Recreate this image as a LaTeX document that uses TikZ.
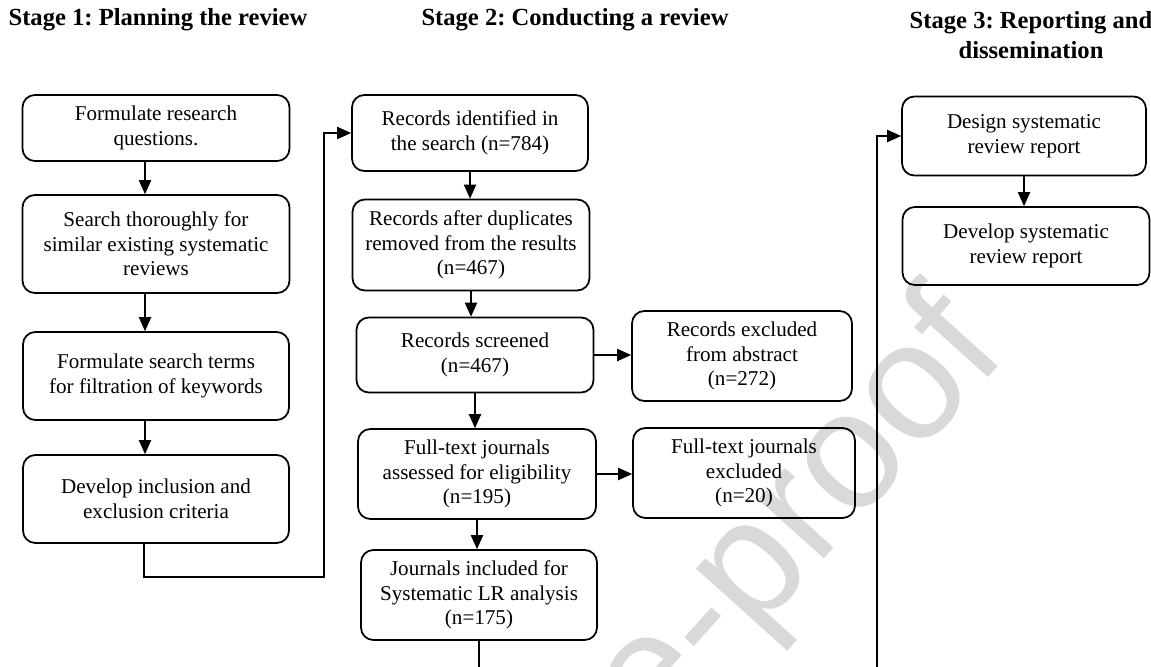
\documentclass[tikz,border=0pt]{standalone}
\usepackage{fontspec}
\setmainfont{Liberation Serif}
\newfontfamily\wmfont{Liberation Sans}
\usetikzlibrary{positioning, arrows.meta}
\frenchspacing

\begin{document}
\begin{tikzpicture}[
    x=0.02cm, y=-0.02cm,
    box/.style={draw, rounded corners=7pt, line width=1pt, align=center, inner sep=2pt, font=\fontsize{12}{14}\selectfont},
    stage/.style={align=center, font=\fontsize{14}{17}\selectfont\bfseries},
    link/.style={line width=0.7pt},
    arr/.style={link, -{Triangle[length=8pt, width=7pt]}},
]
\useasboundingbox (0,0) rectangle (1151,666);

% Watermark
\node[rotate=48, text=black!15, font=\wmfont\fontsize{95}{95}\selectfont] (wm) at (546,804) {Journal Pre-proof};

% Stage headings
\node[stage] (st1) at (158,20) {Stage 1: Planning the review};
\node[stage] (st2) at (575,20) {Stage 2: Conducting a review};
\node[stage] (st3) at (1031,35) {Stage 3: Reporting and\\dissemination};

% Stage 1 boxes
\node[box, minimum width=5.34cm, minimum height=1.32cm] (b1) at (156,128) {Formulate research\\questions.};
\node[box, minimum width=5.34cm, minimum height=1.96cm] (b2) at (156,244) {Search thoroughly for\\similar existing systematic\\reviews};
\node[box, minimum width=5.32cm, minimum height=1.76cm] (b3) at (156,376) {Formulate search terms\\for filtration of keywords};
\node[box, minimum width=5.32cm, minimum height=1.76cm] (b4) at (156,499) {Develop inclusion and\\exclusion criteria};

% Stage 2 boxes
\node[box, minimum width=4.72cm, minimum height=1.52cm] (r1) at (470,133) {Records identified in\\the search (n=784)};
\node[box, minimum width=4.74cm, minimum height=1.82cm] (r2) at (471,245) {Records after duplicates\\removed from the results\\(n=467)};
\node[box, minimum width=4.74cm, minimum height=1.5cm] (r3) at (475,355) {Records screened\\(n=467)};
\node[box, minimum width=4.76cm, minimum height=1.8cm] (r4) at (477,474) {Full-text journals\\assessed for eligibility\\(n=195)};
\node[box, minimum width=4.72cm, minimum height=1.8cm] (r5) at (479,595) {Journals included for\\Systematic LR analysis\\(n=175)};

% Excluded records
\node[box, minimum width=4.4cm, minimum height=1.8cm] (e1) at (742,356) {Records excluded\\from abstract\\(n=272)};
\node[box, minimum width=4.44cm, minimum height=1.8cm] (e2) at (744,473) {Full-text journals\\excluded\\(n=20)};

% Stage 3 boxes
\node[box, minimum width=4.88cm, minimum height=1.58cm] (d1) at (1024,136) {Design systematic\\review report};
\node[box, minimum width=4.94cm, minimum height=1.56cm] (d2) at (1026,246) {Develop systematic\\review report};

% Stage 1 flow
\draw[arr] ([xshift=-0.22cm]b1.south) -- ([xshift=-0.22cm]b2.north);
\draw[arr] ([xshift=-0.22cm]b2.south) -- ([xshift=-0.22cm]b3.north);
\draw[arr] ([xshift=-0.22cm]b3.south) -- ([xshift=-0.22cm]b4.north);

% Stage 1 to Stage 2
\coordinate (jn1) at (324,577);
\draw[arr] ([xshift=-0.24cm]b4.south) |- (jn1) |- (r1.west);

% Stage 2 flow
\draw[arr] (r1.south) -- (r1.south |- r2.north);
\draw[arr] (r2.south) -- (r2.south |- r3.north);
\draw[arr] (r3.south) -- (r3.south |- r4.north);
\draw[arr] (r4.south) -- (r4.south |- r5.north);
\draw[arr] (r3.east) -- (r3.east -| e1.west);
\draw[arr] (r4.east) -- (r4.east -| e2.west);

% Stage 2 to Stage 3
\coordinate (jn2) at (877,700);
\draw[arr] (r5.south) |- (jn2) |- (d1.west);

% Stage 3 flow
\draw[arr] (d1.south) -- (d1.south |- d2.north);
\end{tikzpicture}
\end{document}
